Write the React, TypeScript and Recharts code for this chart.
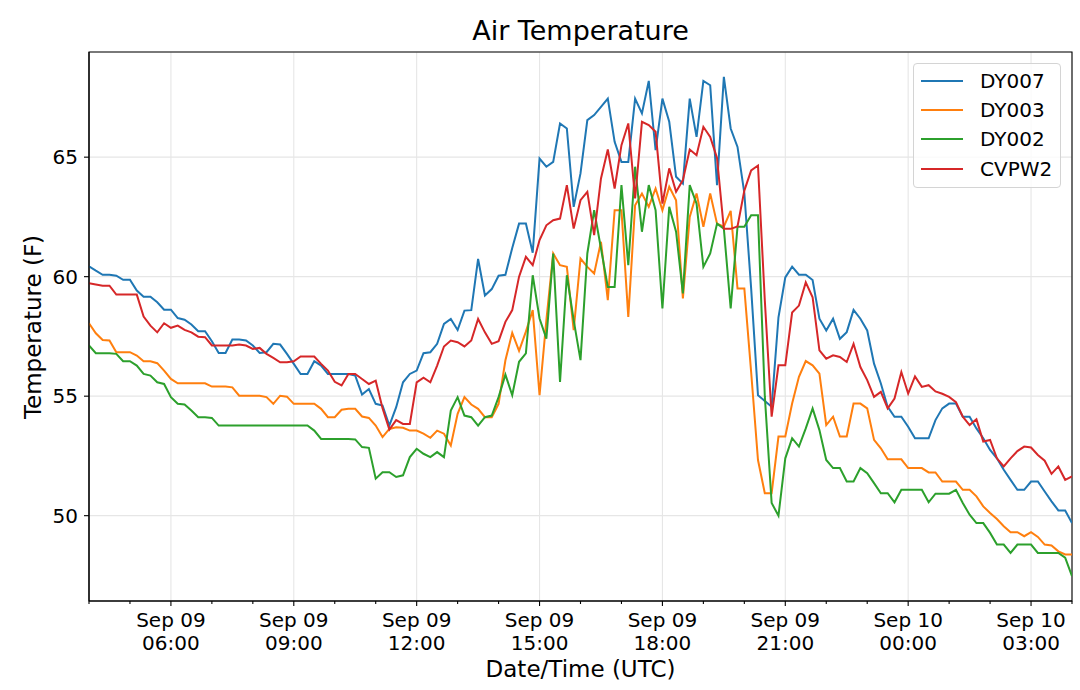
import React from 'react';
import { LineChart, Line, XAxis, YAxis, CartesianGrid, Legend, ReferenceArea } from 'recharts';

const FONT = "'DejaVu Sans', 'Liberation Sans', sans-serif";

// minutes after Sep 09 04:00 UTC, one reading every 10 minutes
const STEP_MIN = 10;

const dy007 = [
  60.43, 60.25, 60.08, 60.08, 60.04, 59.87, 59.87, 59.42, 59.16, 59.16,
  58.93, 58.62, 58.62, 58.27, 58.2, 58.0, 57.72, 57.72, 57.3, 56.81,
  56.81, 57.37, 57.37, 57.33, 57.12, 56.81, 56.84, 57.19, 57.16, 56.77,
  56.35, 55.93, 55.93, 56.46, 56.28, 55.93, 55.93, 55.93, 55.93, 55.86,
  55.07, 55.3, 54.68, 54.61, 53.77, 54.54, 55.58, 55.93, 56.07, 56.8,
  56.84, 57.19, 58.02, 58.23, 57.77, 58.58, 58.6, 60.74, 59.21, 59.48,
  60.04, 60.08, 61.2, 62.22, 62.22, 61.0, 64.94, 64.6, 64.8, 66.41,
  66.2, 62.92, 64.32, 66.55, 66.76, 67.1, 67.45, 65.64, 64.8, 64.8,
  67.45, 66.83, 68.19, 65.29, 67.45, 66.48, 64.18, 63.9, 67.45, 65.85,
  68.19, 68.01, 63.83, 68.36, 66.2, 65.43, 63.5, 59.5, 55.04, 54.8,
  54.56, 58.3, 59.97, 60.42, 60.08, 60.08, 59.86, 58.24, 57.75, 58.24,
  57.4, 57.68, 58.61, 58.24, 57.75, 56.36, 55.53, 54.55, 54.14, 54.14,
  53.72, 53.24, 53.24, 53.24, 54.0, 54.49, 54.69, 54.69, 54.14, 54.14,
  53.65, 53.24, 52.75, 52.4, 51.92, 51.5, 51.08, 51.08, 51.43, 51.43,
  51.01, 50.6, 50.22, 50.22, 49.69,
];

const dy003 = [
  58.05, 57.63, 57.35, 57.33, 56.84, 56.84, 56.84, 56.7, 56.46, 56.46,
  56.38, 56.07, 55.72, 55.54, 55.54, 55.54, 55.54, 55.54, 55.4, 55.4,
  55.4, 55.37, 55.02, 55.02, 55.02, 55.02, 54.96, 54.68, 55.02, 54.98,
  54.68, 54.68, 54.68, 54.68, 54.47, 54.12, 54.12, 54.43, 54.47, 54.47,
  54.15, 54.09, 53.77, 53.29, 53.63, 53.7, 53.68, 53.56, 53.56, 53.43,
  53.26, 53.56, 53.43, 52.94, 54.26, 54.96, 54.65, 54.47, 54.12, 54.12,
  54.68, 56.5, 57.65, 56.9, 57.7, 58.6, 55.04, 58.18, 60.97, 60.48,
  60.41, 57.76, 60.76, 60.41, 60.13, 61.46, 59.02, 62.78, 62.78, 58.32,
  62.99, 63.48, 62.92, 63.69, 62.78, 63.76, 63.2, 59.09, 62.5, 63.48,
  62.09, 63.48, 62.22, 62.09, 62.75, 59.5, 59.5, 56.0, 52.33, 50.94,
  50.94, 53.31, 53.31, 54.69, 55.81, 56.47, 56.29, 55.94, 53.79, 54.14,
  53.31, 53.31, 54.69, 54.69, 54.49, 53.17, 52.82, 52.36, 52.36, 52.36,
  51.99, 51.99, 51.99, 51.81, 51.81, 51.43, 51.43, 51.43, 51.08, 51.08,
  50.81, 50.39, 50.11, 49.86, 49.56, 49.31, 49.31, 49.14, 49.31, 49.11,
  48.79, 48.75, 48.51, 48.38, 48.38,
];

const dy002 = [
  57.12, 56.8, 56.8, 56.8, 56.77, 56.46, 56.46, 56.28, 55.93, 55.86,
  55.58, 55.51, 54.96, 54.68, 54.65, 54.4, 54.12, 54.12, 54.09, 53.77,
  53.77, 53.77, 53.77, 53.77, 53.77, 53.77, 53.77, 53.77, 53.77, 53.77,
  53.77, 53.77, 53.77, 53.56, 53.21, 53.21, 53.21, 53.21, 53.21, 53.19,
  52.87, 52.84, 51.55, 51.82, 51.82, 51.62, 51.69, 52.45, 52.8, 52.59,
  52.45, 52.66, 52.45, 54.4, 54.96, 54.19, 54.12, 53.77, 54.12, 54.19,
  54.96, 55.9, 55.04, 56.44, 56.79, 60.06, 58.25, 57.41, 60.97, 55.6,
  60.06, 58.18, 56.51, 60.97, 62.78, 61.18, 59.57, 59.57, 63.83, 60.48,
  64.6, 61.88, 63.83, 62.78, 58.67, 62.92, 61.88, 59.3, 63.83, 63.06,
  60.41, 60.97, 62.22, 62.01, 58.67, 62.09, 62.09, 62.57, 62.57, 55.0,
  50.53, 50.0, 52.4, 53.24, 52.89, 53.65, 54.49, 53.58, 52.33, 51.99,
  51.99, 51.43, 51.43, 51.99, 51.78, 51.36, 50.94, 50.94, 50.56, 51.08,
  51.08, 51.08, 51.08, 50.56, 50.92, 50.92, 50.92, 51.08, 50.53, 50.04,
  49.69, 49.69, 49.28, 48.79, 48.79, 48.44, 48.79, 48.79, 48.79, 48.44,
  48.44, 48.44, 48.44, 48.24, 47.47,
];

const cvpw2 = [
  59.72, 59.67, 59.62, 59.62, 59.25, 59.25, 59.25, 59.25, 58.33, 57.95,
  57.67, 58.05, 57.86, 57.95, 57.77, 57.67, 57.49, 57.47, 57.12, 57.12,
  57.12, 57.12, 57.16, 57.12, 56.98, 57.02, 56.77, 56.6, 56.42, 56.42,
  56.46, 56.66, 56.66, 56.66, 56.35, 56.07, 55.6, 55.45, 55.93, 55.93,
  55.72, 55.51, 55.65, 54.5, 53.6, 54.0, 53.84, 53.84, 55.58, 55.77,
  55.58, 56.28, 57.08, 57.33, 57.26, 57.08, 57.33, 58.23, 57.67, 57.19,
  57.3, 58.11, 58.6, 60.0, 60.83, 60.48, 61.53, 62.15, 62.36, 62.43,
  63.83, 62.01, 63.2, 63.55, 61.74, 64.11, 65.32, 63.69, 65.5, 66.41,
  63.27, 66.48, 66.34, 66.06, 63.06, 64.53, 63.55, 64.04, 65.32, 65.08,
  66.27, 65.85, 64.97, 62.0, 62.0, 62.1, 63.6, 64.45, 64.65, 59.0,
  54.14, 56.29, 56.29, 58.5, 58.79, 59.76, 59.14, 56.92, 56.57, 56.71,
  56.64, 56.43, 57.19, 56.22, 55.67, 54.97, 55.18, 54.49, 54.9, 56.01,
  55.11, 55.83, 55.39, 55.46, 55.2, 55.1, 54.97, 54.75, 54.14, 53.79,
  54.03, 53.1, 53.17, 52.4, 52.06, 52.4, 52.7, 52.89, 52.85, 52.54,
  52.3, 51.75, 52.06, 51.5, 51.64,
];

// x axis: minutes after Sep 09 04:00
const hourTicks = [
  0, 60, 120, 180, 240, 300, 360, 420, 480, 540, 600, 660, 720, 780, 840,
  900, 960, 1020, 1080, 1140, 1200, 1260, 1320, 1380, 1440,
];
const majorTicks = [120, 300, 480, 660, 840, 1020, 1200, 1380];
const majorDates = ['Sep 09', 'Sep 09', 'Sep 09', 'Sep 09', 'Sep 09', 'Sep 09', 'Sep 10', 'Sep 10'];
const majorTimes = ['06:00', '09:00', '12:00', '15:00', '18:00', '21:00', '00:00', '03:00'];
const yTicks = [50, 55, 60, 65];
const X_DOMAIN: [number, number] = [0, 1440];
const Y_DOMAIN: [number, number] = [46.43, 69.4];

const series = [
  { key: 'DY007', color: '#1f77b4' },
  { key: 'DY003', color: '#ff7f0e' },
  { key: 'DY002', color: '#2ca02c' },
  { key: 'CVPW2', color: '#d62728' },
];

const rows = dy007.map((v, i) => ({
  t: i * STEP_MIN,
  DY007: v,
  DY003: dy003[i],
  DY002: dy002[i],
  CVPW2: cvpw2[i],
}));

const XTick = (props: any) => {
  const { x, y, payload } = props;
  const idx = majorTicks.indexOf(payload.value);
  const major = idx >= 0;
  return (
    <g>
      <line x1={x} x2={x} y1={y} y2={y + (major ? 5 : 3)} stroke="#000" strokeWidth={1.1} />
      {major && (
        <text x={x} y={y + 26} textAnchor="middle" fontSize={20} fontFamily={FONT} fill="#000">
          {majorDates[idx]}
        </text>
      )}
      {major && (
        <text x={x} y={y + 49} textAnchor="middle" fontSize={20} fontFamily={FONT} fill="#000">
          {majorTimes[idx]}
        </text>
      )}
    </g>
  );
};

const LegendBox = () => (
  <div
    style={{
      boxSizing: 'border-box',
      width: 148,
      height: 125,
      border: '1px solid #d4d4d4',
      borderRadius: 4,
      background: 'rgba(255,255,255,0.8)',
      paddingTop: 2,
      fontFamily: FONT,
    }}
  >
    {series.map((s) => (
      <div key={s.key} style={{ height: 29.3, display: 'flex', alignItems: 'center' }}>
        <span style={{ display: 'inline-block', marginLeft: 7, width: 42, height: 2, background: s.color }} />
        <span style={{ marginLeft: 17, fontSize: 20, color: '#000', lineHeight: '20px' }}>{s.key}</span>
      </div>
    ))}
  </div>
);

export default function App() {
  return (
    <div style={{ position: 'absolute', left: 0, top: 0, width: 1080, height: 690, background: '#fff' }}>
      <LineChart
        width={1080}
        height={690}
        data={rows}
        margin={{ top: 52, right: 8, left: 29, bottom: 29 }}
      >
        <CartesianGrid xAxisId="grid" stroke="#e6e6e6" strokeWidth={1.1} />
        <XAxis
          dataKey="t"
          type="number"
          domain={X_DOMAIN}
          ticks={hourTicks}
          interval={0}
          height={60}
          tickSize={0}
          tickMargin={0}
          tickLine={false}
          axisLine={{ stroke: '#000', strokeWidth: 1.1 }}
          tick={<XTick />}
          allowDataOverflow
        />
        <XAxis
          xAxisId="grid"
          dataKey="t"
          type="number"
          domain={X_DOMAIN}
          ticks={majorTicks}
          interval={0}
          hide
          allowDataOverflow
        />
        <YAxis
          type="number"
          domain={Y_DOMAIN}
          ticks={yTicks}
          interval={0}
          width={60}
          tickSize={5}
          tickMargin={6}
          axisLine={{ stroke: '#000', strokeWidth: 1.1 }}
          tickLine={{ stroke: '#000', strokeWidth: 1.1 }}
          tick={{ fontSize: 20, fill: '#000', fontFamily: FONT }}
          allowDataOverflow
        />
        {series.map((s) => (
          <Line
            key={s.key}
            dataKey={s.key}
            name={s.key}
            type="linear"
            stroke={s.color}
            strokeWidth={2}
            dot={false}
            activeDot={false}
            isAnimationActive={false}
          />
        ))}
        <ReferenceArea
          x1={X_DOMAIN[0]}
          x2={X_DOMAIN[1]}
          y1={Y_DOMAIN[0]}
          y2={Y_DOMAIN[1]}
          fill="none"
          fillOpacity={0}
          stroke="#000"
          strokeWidth={1.1}
        />
        <Legend
          layout="vertical"
          align="center"
          verticalAlign="middle"
          content={() => <LegendBox />}
          wrapperStyle={{ position: 'absolute', left: 913, top: 63, width: 148, height: 125, margin: 0 }}
        />
      </LineChart>
      <svg
        width={1080}
        height={690}
        style={{ position: 'absolute', left: 0, top: 0, pointerEvents: 'none' }}
      >
        <text x={580.5} y={40} textAnchor="middle" fontSize={27} fontFamily={FONT} fill="#000">
          Air Temperature
        </text>
        <text x={580.5} y={677} textAnchor="middle" fontSize={23} fontFamily={FONT} fill="#000">
          Date/Time (UTC)
        </text>
        <text
          transform="translate(41,327) rotate(-90)"
          textAnchor="middle"
          fontSize={23}
          fontFamily={FONT}
          fill="#000"
        >
          Temperature (F)
        </text>
      </svg>
    </div>
  );
}
